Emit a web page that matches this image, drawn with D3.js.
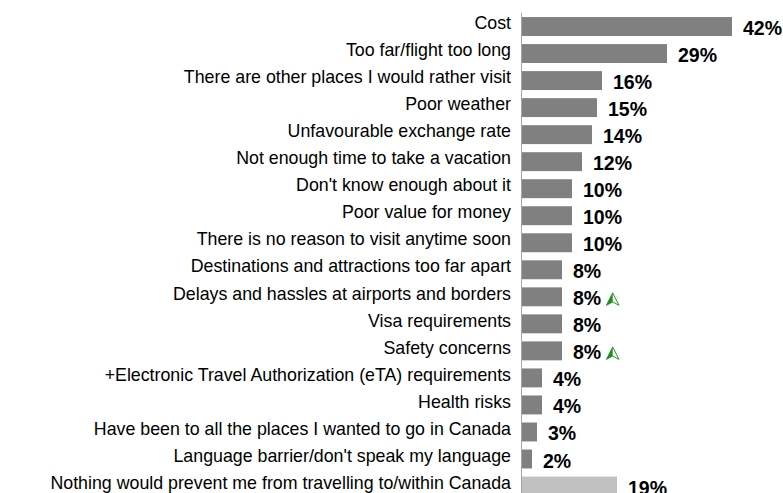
<!DOCTYPE html>
<html>
<head>
<meta charset="utf-8">
<script src="https://cdn.jsdelivr.net/npm/d3@7"></script>
<style>
  html, body { margin: 0; padding: 0; background: #fff; }
  svg { display: block; }
</style>
</head>
<body>
<svg id="chart" width="783" height="493"></svg>
<script>
// Reasons that would prevent travel to/within Canada (% of respondents)
const categories = [
  "Cost",
  "Too far/flight too long",
  "There are other places I would rather visit",
  "Poor weather",
  "Unfavourable exchange rate",
  "Not enough time to take a vacation",
  "Don't know enough about it",
  "Poor value for money",
  "There is no reason to visit anytime soon",
  "Destinations and attractions too far apart",
  "Delays and hassles at airports and borders",
  "Visa requirements",
  "Safety concerns",
  "+Electronic Travel Authorization (eTA) requirements",
  "Health risks",
  "Have been to all the places I wanted to go in Canada",
  "Language barrier/don't speak my language",
  "Nothing would prevent me from travelling to/within Canada"
];
const values = [42, 29, 16, 15, 14, 12, 10, 10, 10, 8, 8, 8, 8, 4, 4, 3, 2, 19];
// Reasons flagged as significantly higher than the previous wave
const increased = [
  "Delays and hassles at airports and borders",
  "Safety concerns"
];
const highlightedCategory = "Nothing would prevent me from travelling to/within Canada";

const data = categories.map((c, i) => ({ category: c, value: values[i] }));

const svg = d3.select("#chart");
const axisX = 521;
const fontFamily = "Liberation Sans, Arial, sans-serif";

const x = d3.scaleLinear().domain([0, 10]).range([axisX, axisX + 50]);
const y = d3.scaleBand()
  .domain(categories)
  .range([13, 13 + 18 * 27.03])
  .paddingInner(0.3)
  .paddingOuter(0.15);

// bars
svg.append("g")
  .selectAll("rect")
  .data(data)
  .join("rect")
  .attr("x", x(0) + 1)
  .attr("y", d => y(d.category))
  .attr("width", d => x(d.value) - x(0))
  .attr("height", y.bandwidth())
  .attr("fill", d => d.category === highlightedCategory ? "#c0c0c0" : "#808080");

// category axis (labels only, no ticks)
const yAxis = d3.axisLeft(y).tickSize(0).tickPadding(10);
const axisG = svg.append("g")
  .attr("transform", `translate(${axisX},-3)`)
  .call(yAxis);
axisG.select(".domain").remove();
axisG.selectAll("text")
  .attr("font-family", fontFamily)
  .attr("font-size", 17.8)
  .attr("fill", "#000");

// vertical baseline
svg.append("line")
  .attr("x1", axisX + 0.5).attr("x2", axisX + 0.5)
  .attr("y1", 13).attr("y2", 493)
  .attr("stroke", "#a6a6a6")
  .attr("stroke-width", 1);

// value labels
const labels = svg.append("g")
  .selectAll("text")
  .data(data)
  .join("text")
  .attr("x", d => x(d.value) + 12)
  .attr("y", d => y(d.category) + y.bandwidth() / 2 + 1.5)
  .attr("dy", "0.36em")
  .attr("font-family", fontFamily)
  .attr("font-weight", "bold")
  .attr("font-size", 19.5)
  .attr("fill", "#000")
  .text(d => d.value + "%");

// up-arrow markers for increases
const arrowPath = "M0,-6.5 L6.3,6 L0,2.6 L-6.3,6 Z";
labels.each(function(d) {
  if (!increased.includes(d.category)) return;
  const bb = this.getBBox();
  const cx = bb.x + bb.width + 11.5;
  const cy = y(d.category) + y.bandwidth() / 2 + 2.5;
  const g = svg.append("g").attr("transform", `translate(${cx},${cy})`);
  g.append("path").attr("d", arrowPath)
    .attr("fill", "#ffffff").attr("stroke", "#2e9a2e").attr("stroke-width", 1);
  g.append("path").attr("d", "M0,-6.5 L-6.3,6 L0,2.6 Z").attr("fill", "#1f8f1f");
});
</script>
</body>
</html>
